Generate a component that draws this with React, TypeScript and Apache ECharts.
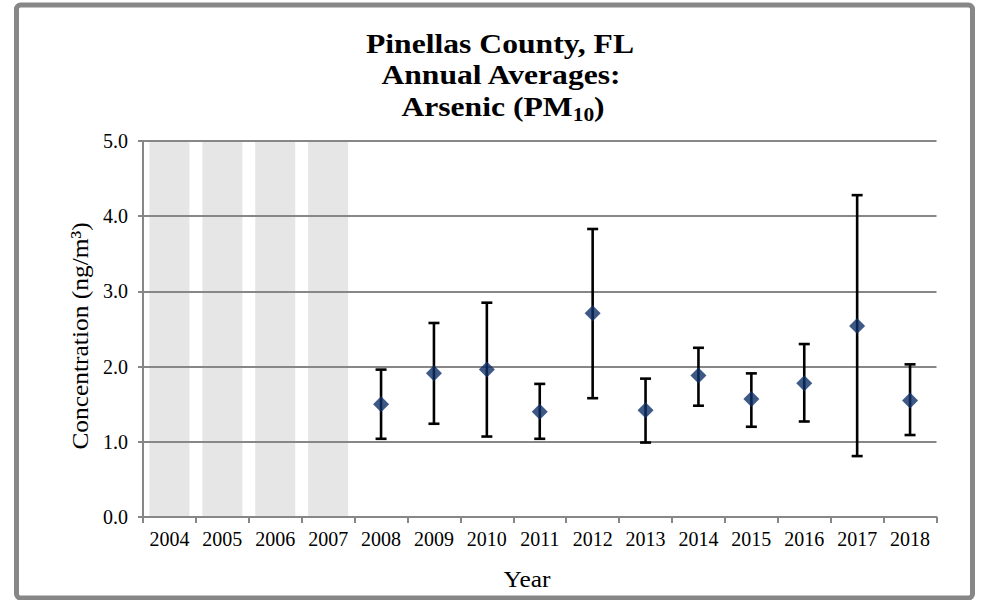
import React, { useEffect, useRef } from "react";
import * as echarts from "echarts";

const years = ["2004", "2005", "2006", "2007", "2008", "2009", "2010", "2011", "2012", "2013", "2014", "2015", "2016", "2017", "2018"];
// annual average concentration (ng/m3)
const means: (number | null)[] = [null, null, null, null, 1.5, 1.91, 1.96, 1.4, 2.71, 1.42, 1.88, 1.57, 1.78, 2.54, 1.55];
const lows: (number | null)[] = [null, null, null, null, 1.04, 1.24, 1.07, 1.04, 1.58, 0.99, 1.48, 1.2, 1.27, 0.81, 1.09];
const highs: (number | null)[] = [null, null, null, null, 1.96, 2.58, 2.85, 1.77, 3.83, 1.84, 2.25, 1.91, 2.3, 4.28, 2.03];
// years without data are shaded to the top of the axis
const noDataBand: (number | null)[] = [5, 5, 5, 5, null, null, null, null, null, null, null, null, null, null, null];
const yTicks = { min: 0, max: 5, interval: 1 };

const SERIF = "Liberation Serif";
const GRAY = "#878787";

export default function App() {
  const ref = useRef<HTMLDivElement>(null);
  useEffect(() => {
    if (!ref.current) return;
    const chart = echarts.init(ref.current, null, { renderer: "svg" });
    const errData: number[][] = [];
    years.forEach((_, i) => {
      if (lows[i] != null && highs[i] != null) errData.push([i, lows[i] as number, highs[i] as number]);
    });
    const titleStyle = (text: string) => ({
      text,
      fontFamily: SERIF,
      fontWeight: "bold",
      fontSize: 28,
      fill: "#000",
      align: "center",
      verticalAlign: "middle",
    });
    const option: any = {
      animation: false,
      backgroundColor: "#fff",
      grid: { left: 143, right: 45.5, top: 141, bottom: 83, containLabel: false },
      xAxis: {
        type: "category",
        data: years,
        boundaryGap: true,
        z: 3,
        axisLine: { lineStyle: { color: GRAY, width: 2 } },
        axisTick: { show: true, interval: 0, length: 6, lineStyle: { color: GRAY, width: 2 } },
        axisLabel: { interval: 0, color: "#000", fontFamily: SERIF, fontSize: 20, margin: 12 },
        splitLine: { show: false },
      },
      yAxis: {
        type: "value",
        min: yTicks.min,
        max: yTicks.max,
        interval: yTicks.interval,
        z: 3,
        axisLine: { show: true, lineStyle: { color: GRAY, width: 2 } },
        axisTick: { show: true, length: 5, lineStyle: { color: GRAY, width: 2 } },
        axisLabel: { color: "#000", fontFamily: SERIF, fontSize: 20, margin: 15, formatter: (v: number) => v.toFixed(1) },
        splitLine: { show: true, lineStyle: { color: GRAY, width: 2 } },
      },
      series: [
        {
          type: "bar",
          data: noDataBand,
          barWidth: 40,
          silent: true,
          z: 1,
          itemStyle: { color: "#e6e6e6" },
        },
        {
          type: "custom",
          data: errData,
          z: 5,
          silent: true,
          encode: { x: 0, y: [1, 2] },
          renderItem: (params: any, api: any) => {
            const idx = api.value(0);
            const lo = api.coord([idx, api.value(1)]);
            const hi = api.coord([idx, api.value(2)]);
            const cap = 5.5;
            const st = { stroke: "#000", lineWidth: 2.6 };
            return {
              type: "group",
              children: [
                { type: "line", shape: { x1: lo[0], y1: lo[1], x2: hi[0], y2: hi[1] }, style: st },
                { type: "line", shape: { x1: lo[0] - cap, y1: lo[1], x2: lo[0] + cap, y2: lo[1] }, style: st },
                { type: "line", shape: { x1: hi[0] - cap, y1: hi[1], x2: hi[0] + cap, y2: hi[1] }, style: st },
              ],
            };
          },
        },
        {
          type: "scatter",
          data: means,
          symbol: "diamond",
          symbolSize: 16,
          z: 6,
          itemStyle: { color: "#0f3068" },
        },
      ],
      graphic: [
        {
          type: "rect",
          silent: true,
          shape: { x: 16.5, y: 5, width: 956, height: 593, r: 4 },
          style: { fill: "none", stroke: GRAY, lineWidth: 5 },
        },
        { type: "text", x: 500, y: 42.9, scaleX: 1.13, style: titleStyle("Pinellas County, FL") },
        { type: "text", x: 501, y: 74, scaleX: 1.13, style: titleStyle("Annual Averages:") },
        {
          type: "text",
          x: 503,
          y: 106,
          scaleX: 1.13,
          style: {
            text: "{a|Arsenic (PM}{s|10}{a|)}",
            align: "center",
            verticalAlign: "middle",
            rich: {
              a: { fontFamily: SERIF, fontWeight: "bold", fontSize: 28, lineHeight: 35, fill: "#000", color: "#000" },
              s: { fontFamily: SERIF, fontWeight: "bold", fontSize: 19, lineHeight: 19, verticalAlign: "bottom", fill: "#000", color: "#000" },
            },
          },
        },
        {
          type: "text",
          x: 527,
          y: 579,
          scaleX: 1.06,
          style: { text: "Year", fontFamily: SERIF, fontSize: 24, fill: "#000", align: "center", verticalAlign: "middle" },
        },
        {
          type: "text",
          x: 80,
          y: 336,
          rotation: Math.PI / 2,
          scaleX: 1.06,
          style: { text: "Concentration (ng/m³)", fontFamily: SERIF, fontSize: 24, fill: "#000", align: "center", verticalAlign: "middle" },
        },
      ],
    };
    chart.setOption(option);
    return () => chart.dispose();
  }, []);
  return (
    <div
      ref={ref}
      style={{ position: "absolute", left: 0, top: 0, width: 982, height: 600, background: "#fff" }}
    />
  );
}
